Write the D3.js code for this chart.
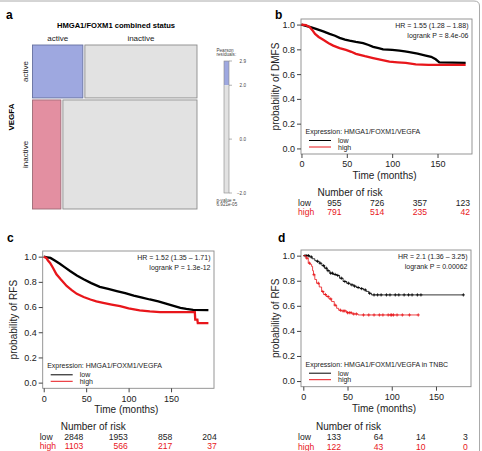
<!DOCTYPE html>
<html>
<head>
<meta charset="utf-8">
<script src="https://cdn.jsdelivr.net/npm/d3@7/dist/d3.min.js"></script>
<style>
  body { margin: 0; background: #fff; }
  svg { display: block; font-family: Arial, "Liberation Sans", sans-serif; }
</style>
</head>
<body>
<svg id="fig" width="482" height="451"></svg>
<script>

// ---- panel a : mosaic of VEGFA vs HMGA1/FOXM1 ----
var mosaicCols = ["active", "inactive"];   // HMGA1/FOXM1 combined status
var mosaicRows = ["active", "inactive"];   // VEGFA
var mosaicCounts = [[310, 690], [360, 1700]];
var mosaicResid = [[2.9, -1.3], [-2.2, 0.9]];
var residTicks = [2.9, 2.0, 0.0, -2.0];

// ---- survival curves : [months, probability] ----
var dmfsLow = [[0,1],[5,0.99],[10,0.98],[16,0.965],[24,0.945],[31,0.925],[37,0.91],[42,0.893],[48,0.878],
  [53,0.87],[60,0.86],[68,0.85],[74,0.835],[79,0.82],[85,0.81],[90,0.8],[100,0.795],[108,0.79],[114,0.783],
  [119,0.777],[128,0.765],[137,0.75],[143,0.74],[148,0.72],[152,0.695],[181,0.69]];
var dmfsHigh = [[0,1],[5,0.995],[9,0.98],[12,0.955],[15,0.925],[19,0.9],[24,0.877],[30,0.85],[35,0.83],
  [42,0.81],[49,0.796],[55,0.78],[60,0.764],[70,0.745],[79,0.73],[88,0.715],[97,0.7],[106,0.695],
  [115,0.69],[126,0.678],[140,0.675],[181,0.675]];
var dmfsRiskLow = [955, 726, 357, 123];
var dmfsRiskHigh = [791, 514, 235, 42];

var rfsLow = [[0,1],[4,0.995],[8,0.99],[13,0.97],[19,0.944],[25,0.915],[31,0.886],[39,0.85],[47,0.82],
  [56,0.79],[66,0.76],[76,0.745],[86,0.727],[96,0.71],[106,0.69],[116,0.675],[125,0.66],[135,0.645],
  [145,0.626],[153,0.61],[161,0.594],[168,0.585],[176,0.578],[194,0.575]];
var rfsHigh = [[0,1],[3,0.99],[5,0.97],[7.5,0.95],[11,0.91],[15,0.86],[20,0.82],[27,0.767],[33,0.735],
  [39,0.705],[47,0.68],[55,0.66],[62,0.645],[70,0.634],[80,0.62],[90,0.607],[100,0.59],[113,0.573],
  [125,0.565],[137,0.56],[178,0.56],[178.5,0.5],[181,0.5],[181.5,0.472],[194,0.472]];
var rfsRiskLow = [2848, 1953, 858, 204];
var rfsRiskHigh = [1103, 566, 217, 37];

var tnbcLow = [[0,1],[3,1],[7,0.99],[10,0.975],[13,0.96],[15,0.955],[18,0.94],[21,0.92],[24,0.9],[27,0.88],
  [30,0.86],[34,0.85],[38,0.842],[41,0.82],[45,0.794],[49,0.78],[53,0.767],[57,0.757],[60,0.746],
  [64,0.737],[68,0.727],[71,0.715],[74,0.7],[77,0.687],[181,0.687]];
var tnbcHigh = [[0,1],[3,0.98],[5.6,0.94],[8,0.93],[9.4,0.914],[10.5,0.88],[11.5,0.848],[13,0.81],
  [15,0.78],[18,0.75],[20.7,0.714],[23,0.69],[26,0.674],[29,0.655],[32,0.634],[35,0.605],[37.7,0.58],
  [40,0.565],[43,0.559],[49,0.545],[55,0.535],[62,0.527],[130,0.527]];
var tnbcLowCens = [2,4,6,9,16,19,23,26,28,31,33,36,39,43,47,51,55,58,62,66,70,75,80,84,88,94,98,104,108,
  114,119,123,129,133,181];
var tnbcHighCens = [4,7,12,17,22,25,28,31,36,42,45,47,50,52,54,57,60,68,74,80,86,90,96,99,100,102,106,
  112,120,130];
var tnbcRiskLow = [133, 64, 14, 3];
var tnbcRiskHigh = [122, 43, 10, 0];

var timeTicks = [0, 50, 100, 150];
var probTicks = [0, 0.2, 0.4, 0.6, 0.8, 1.0];

var RED = "#e8161b";
var svg = d3.select("#fig");

// frame of the figure (top + right edge)
svg.append("path")
  .attr("d", "M0,1 H474 Q479.5,1 479.5,6 V451")
  .attr("fill", "none").attr("stroke", "#aaa").attr("stroke-width", 1);

function panelLetter(ch, x, y) {
  svg.append("text").attr("x", x).attr("y", y)
    .attr("font-size", 12).attr("font-weight", "bold").text(ch);
}

//==========================
// PANEL A
//==========================
panelLetter("a", 6, 18.5);

var mx0 = 32.5, my0 = 45, mW = 164.5, mH = 164, gap = 2;
var total = d3.sum(mosaicCounts, function(r) { return d3.sum(r); });
var rowH = d3.scaleLinear().domain([0, total]).range([0, mH - gap]);
var fillOf = d3.scaleThreshold().domain([-2, 2]).range(["#e38fa1", "#e2e2e2", "#9ea8e0"]);
var strokeOf = d3.scaleThreshold().domain([-2, 2]).range(["#9c6a76", "#8c8c8c", "#65709f"]);

var yCursor = my0;
mosaicCounts.forEach(function(row, i) {
  var rs = d3.sum(row);
  var h = rowH(rs);
  var colW = d3.scaleLinear().domain([0, rs]).range([0, mW - gap]);
  var xCursor = mx0;
  row.forEach(function(c, j) {
    svg.append("rect")
      .attr("x", xCursor).attr("y", yCursor)
      .attr("width", colW(c)).attr("height", h)
      .attr("fill", fillOf(mosaicResid[i][j]))
      .attr("stroke", strokeOf(mosaicResid[i][j])).attr("stroke-width", 0.9);
    if (i === 0) {
      svg.append("text").attr("x", xCursor + colW(c) / 2).attr("y", 40.5)
        .attr("text-anchor", "middle").attr("font-size", 8).attr("fill", "#222")
        .text(mosaicCols[j]);
    }
    xCursor += colW(c) + gap;
  });
  svg.append("text")
    .attr("transform", "translate(28," + (yCursor + h / 2) + ") rotate(-90)")
    .attr("text-anchor", "middle").attr("font-size", 8).attr("fill", "#222")
    .text(mosaicRows[i]);
  yCursor += h + gap;
});

svg.append("text").attr("x", 116).attr("y", 28)
  .attr("text-anchor", "middle").attr("font-size", 7.6).attr("font-weight", "bold")
  .text("HMGA1/FOXM1 combined status");
svg.append("text")
  .attr("transform", "translate(13.5,117) rotate(-90)")
  .attr("text-anchor", "middle").attr("font-size", 8).attr("font-weight", "bold")
  .text("VEGFA");

// residual legend
var ry = d3.scaleLinear().domain([-2, 2.9]).range([193, 61]);
var bar = svg.append("g");
bar.append("rect").attr("x", 224).attr("y", ry(2.9)).attr("width", 5)
  .attr("height", ry(2.0) - ry(2.9)).attr("fill", "#9ea8e0");
bar.append("rect").attr("x", 224).attr("y", ry(2.0)).attr("width", 5)
  .attr("height", ry(-2) - ry(2.0)).attr("fill", "#e2e2e2");
bar.append("rect").attr("x", 224).attr("y", ry(2.9)).attr("width", 5)
  .attr("height", ry(-2) - ry(2.9)).attr("fill", "none").attr("stroke", "#888").attr("stroke-width", 0.6);
residTicks.forEach(function(t) {
  bar.append("line").attr("x1", 229).attr("x2", 232).attr("y1", ry(t)).attr("y2", ry(t))
    .attr("stroke", "#666").attr("stroke-width", 0.5);
  bar.append("text").attr("x", 246).attr("y", ry(t) + 1.6).attr("text-anchor", "end")
    .attr("font-size", 4.6).attr("fill", "#444").text(d3.format(".1f")(t));
});
[["Pearson", 51.5], ["residuals:", 55.5], ["p-value =", 201.5], ["6.921e-05", 205.5]].forEach(function(l) {
  svg.append("text").attr("x", 216.5).attr("y", l[1])
    .attr("font-size", 4.6).attr("fill", "#444").text(l[0]);
});

//==========================
// KAPLAN-MEIER PANELS
//==========================
function stepValue(curve, t) {
  var v = curve[0][1];
  curve.forEach(function(p) { if (p[0] <= t) v = p[1]; });
  return v;
}

function drawKM(cfg) {
  var g = svg.append("g");
  var x = d3.scaleLinear().domain(cfg.xDomain).range([cfg.L, cfg.R]);
  var y = d3.scaleLinear().domain([-0.045, 1.045]).range([cfg.B, cfg.T]);

  // box
  g.append("rect").attr("x", cfg.L).attr("y", cfg.T)
    .attr("width", cfg.R - cfg.L).attr("height", cfg.B - cfg.T)
    .attr("fill", "none").attr("stroke", "#8a8a8a").attr("stroke-width", 0.9);

  var ya = g.append("g").attr("transform", "translate(" + cfg.L + ",0)")
    .call(d3.axisLeft(y).tickValues(probTicks).tickFormat(d3.format(".1f")).tickSize(4).tickPadding(2));
  var xa = g.append("g").attr("transform", "translate(0," + cfg.B + ")")
    .call(d3.axisBottom(x).tickValues(timeTicks).tickSize(4).tickPadding(3));
  [ya, xa].forEach(function(a) {
    a.select(".domain").remove();
    a.selectAll("line").attr("stroke", "#444");
    a.selectAll("text").attr("font-size", 9).attr("fill", "#222").attr("font-family", null);
  });

  g.append("text")
    .attr("transform", "translate(" + (cfg.L - cfg.ylabOff) + "," + ((cfg.T + cfg.B) / 2) + ") rotate(-90)")
    .attr("text-anchor", "middle").attr("font-size", 10).attr("fill", "#222").text(cfg.ylab);
  g.append("text").attr("x", (cfg.L + cfg.R) / 2 - 2).attr("y", cfg.B + 25)
    .attr("text-anchor", "middle").attr("font-size", 10).attr("fill", "#222").text("Time (months)");

  // curves (dense cohorts b/c read as smooth traces, TNBC as steps)
  var line = d3.line().curve(cfg.steps ? d3.curveStepAfter : d3.curveLinear)
    .x(function(d) { return x(d[0]); }).y(function(d) { return y(d[1]); });
  [[cfg.low, "#000", cfg.lowCens], [cfg.high, RED, cfg.highCens]].forEach(function(s) {
    g.append("path").datum(s[0]).attr("d", line)
      .attr("fill", "none").attr("stroke", s[1]).attr("stroke-width", cfg.lw);
    if (s[2]) {
      s[2].forEach(function(t) {
        var cx = x(t), cy = y(stepValue(s[0], t));
        g.append("path").attr("d", "M" + (cx - 1.6) + "," + cy + "h3.2M" + cx + "," + (cy - 1.6) + "v3.2")
          .attr("stroke", s[1]).attr("stroke-width", 0.8);
      });
    }
  });

  // stats text
  g.append("text").attr("x", cfg.R - 3.5).attr("y", cfg.T + 9).attr("text-anchor", "end")
    .attr("font-size", 7).attr("fill", "#222").text(cfg.hr);
  g.append("text").attr("x", cfg.R - 3.5).attr("y", cfg.T + 19).attr("text-anchor", "end")
    .attr("font-size", 7).attr("fill", "#222").text(cfg.p);

  // legend
  g.append("text").attr("x", cfg.L + 4.5).attr("y", cfg.B - 20).attr("font-size", 7)
    .attr("fill", "#222").text(cfg.expr);
  [["low", "#000", cfg.B - 13.5], ["high", RED, cfg.B - 7]].forEach(function(l) {
    g.append("line").attr("x1", cfg.L + 8).attr("x2", cfg.L + 30).attr("y1", l[2]).attr("y2", l[2])
      .attr("stroke", l[1]).attr("stroke-width", 1);
    g.append("text").attr("x", cfg.L + 37).attr("y", l[2] + 2.5).attr("font-size", 7)
      .attr("fill", "#222").text(l[0]);
  });

  // number at risk
  var rx = d3.scalePoint().domain(d3.range(4)).range(cfg.riskX);
  g.append("text").attr("x", cfg.L + cfg.riskTitleX).attr("y", cfg.riskY)
    .attr("font-size", 10).attr("fill", "#222").text("Number of risk");
  [["low", cfg.riskLow, "#222"], ["high", cfg.riskHigh, RED]].forEach(function(r, i) {
    var yy = cfg.riskY + 10 + i * 9.5;
    g.append("text").attr("x", cfg.L - 3).attr("y", yy).attr("font-size", 8.6)
      .attr("fill", r[2]).text(r[0]);
    r[1].forEach(function(v, k) {
      g.append("text").attr("x", rx(k)).attr("y", yy).attr("text-anchor", "end")
        .attr("font-size", 8.6).attr("fill", r[2]).text(v);
    });
  });
}

panelLetter("b", 275, 18.5);
drawKM({
  L: 301, R: 472, T: 19, B: 154, xDomain: [-0.5, 188], lw: 2.3,
  ylab: "probability of DMFS", ylabOff: 22,
  low: dmfsLow, high: dmfsHigh,
  hr: "HR = 1.55 (1.28 \u2013 1.88)", p: "logrank P = 8.4e-06",
  expr: "Expression: HMGA1/FOXM1/VEGFA",
  riskLow: dmfsRiskLow, riskHigh: dmfsRiskHigh, riskX: [341.5, 470], riskY: 195.5, riskTitleX: 16.5
});

panelLetter("c", 7, 242);
drawKM({
  L: 42.7, R: 214, T: 251, B: 388.3, xDomain: [-1.2, 200.6], lw: 2.3,
  ylab: "probability of RFS", ylabOff: 26,
  low: rfsLow, high: rfsHigh,
  hr: "HR = 1.52 (1.35 \u2013 1.71)", p: "logrank P = 1.3e-12",
  expr: "Expression: HMGA1/FOXM1/VEGFA",
  riskLow: rfsRiskLow, riskHigh: rfsRiskHigh, riskX: [83.3, 216.7], riskY: 429.5, riskTitleX: 18
});

panelLetter("d", 278, 242);
drawKM({
  L: 301, R: 471, T: 250, B: 386.7, xDomain: [-2.6, 189.6], lw: 0.8, steps: true,
  ylab: "probability of RFS", ylabOff: 22,
  low: tnbcLow, high: tnbcHigh, lowCens: tnbcLowCens, highCens: tnbcHighCens,
  hr: "HR = 2.1 (1.36 \u2013 3.25)", p: "logrank P = 0.00062",
  expr: "Expression: HMGA1/FOXM1/VEGFA in TNBC",
  riskLow: tnbcRiskLow, riskHigh: tnbcRiskHigh, riskX: [341, 467.7], riskY: 430, riskTitleX: 15
});

</script>
</body>
</html>
